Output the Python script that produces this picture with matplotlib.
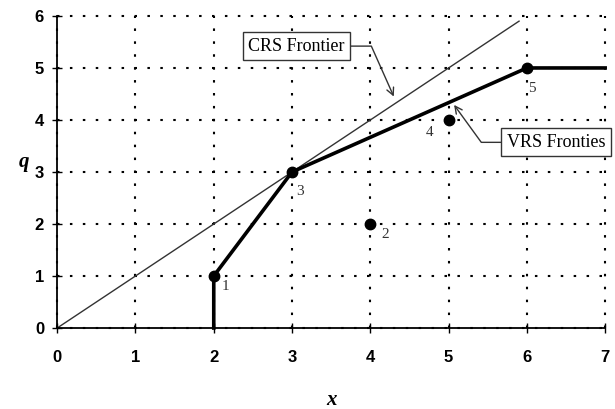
import matplotlib
matplotlib.use("Agg")
import matplotlib.pyplot as plt

# DMUs (input x, output q)
dmu_x = [2, 4, 3, 5, 6]
dmu_q = [1, 2, 3, 4, 5]
dmu_labels = ["1", "2", "3", "4", "5"]

# VRS frontier vertices
vrs_x = [2, 2, 3, 6, 7]
vrs_q = [0, 1, 3, 5, 5]

# CRS frontier (ray through origin and DMU 3)
crs_x = [0, 5.9]
crs_q = [0, 5.9]

label_offsets = [(0.15, -0.2), (0.19, -0.2), (0.1, -0.37), (-0.24, -0.25), (0.07, -0.39)]

fig = plt.figure(figsize=(6.15, 4.09), dpi=100)
ax = fig.add_axes([0.093, 0.198, 0.891, 0.763])

ax.set_xlim(0, 7)
ax.set_ylim(0, 6)
ax.set_xticks(range(8))
ax.set_yticks(range(7))

ax.grid(True, linestyle=(0, (1.2, 5)), color="black", linewidth=1.5)
ax.set_axisbelow(True)
for gl in ax.get_xgridlines() + ax.get_ygridlines():
    gl.set_clip_on(False)
for s in ["top", "right"]:
    ax.spines[s].set_visible(False)
for s in ["left", "bottom"]:
    ax.spines[s].set_linewidth(1.3)

ax.plot(crs_x, crs_q, color="#333333", linewidth=1.0, clip_on=False)
ax.plot(vrs_x, vrs_q, color="black", linewidth=2.6, clip_on=False)
ax.plot(dmu_x, dmu_q, "o", color="black", markersize=7.5, clip_on=False)

for xi, qi, lab, (dx, dy) in zip(dmu_x, dmu_q, dmu_labels, label_offsets):
    ax.text(xi + dx, qi + dy, lab, fontsize=11, family="Liberation Serif",
            color="#333333", ha="center", va="center")

box = dict(boxstyle="square,pad=0.3", facecolor="white", edgecolor="#333333", linewidth=1)
ax.annotate("CRS Frontier", xy=(4.3, 4.45), xytext=(3.06, 5.42),
            fontsize=13, family="Liberation Serif", ha="center", va="center", bbox=box,
            arrowprops=dict(arrowstyle="->", color="#333333", linewidth=1,
                            connectionstyle="angle,angleA=0,angleB=114,rad=0",
                            shrinkA=0, shrinkB=0))
ax.annotate("VRS Fronties", xy=(5.07, 4.29), xytext=(6.37, 3.57),
            fontsize=13, family="Liberation Serif", ha="center", va="center", bbox=box,
            annotation_clip=False,
            arrowprops=dict(arrowstyle="->", color="#333333", linewidth=1,
                            connectionstyle="angle,angleA=0,angleB=126,rad=0",
                            shrinkA=0, shrinkB=0))

ax.tick_params(direction="inout", length=7, width=1, pad=12)
for lab in ax.get_xticklabels() + ax.get_yticklabels():
    lab.set_fontfamily("Liberation Sans")
    lab.set_fontweight("bold")
    lab.set_fontsize(12)
ax.tick_params(axis="y", pad=6)

ax.set_xlabel("x", fontsize=15, family="Liberation Serif", style="italic",
              fontweight="bold", labelpad=18)
ax.set_ylabel("q", fontsize=15, family="Liberation Serif", style="italic",
              fontweight="bold", rotation=0, labelpad=8)

fig.savefig("out.png", dpi=100)
